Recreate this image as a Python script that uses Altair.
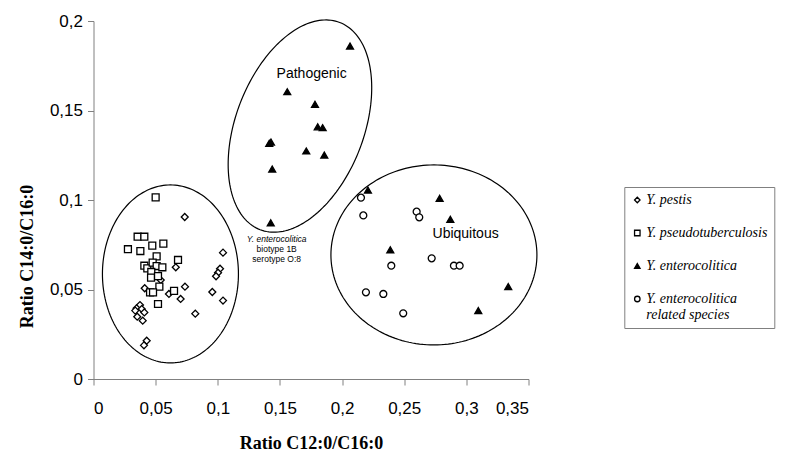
import math
import altair as alt
import pandas as pd

# ---- data ----
pestis_x = [0.0734, 0.0662, 0.1042, 0.1018, 0.1002, 0.0986, 0.0412, 0.0541, 0.0736, 0.0607, 0.0701,
            0.0956, 0.1042, 0.0819, 0.0374, 0.0347, 0.0336, 0.0388, 0.0409, 0.0352, 0.0396, 0.0428, 0.0406]
pestis_y = [0.0905, 0.0624, 0.0706, 0.0616, 0.0594, 0.0574, 0.0507, 0.0553, 0.0516, 0.0475, 0.0447,
            0.0486, 0.0438, 0.0365, 0.0413, 0.0395, 0.0382, 0.0391, 0.0372, 0.0348, 0.0326, 0.0214, 0.0188]

pseudo_x = [0.0500, 0.0355, 0.0409, 0.0277, 0.0377, 0.0473, 0.0562, 0.0508, 0.0680, 0.0409, 0.0433,
            0.0476, 0.0508, 0.0554, 0.0465, 0.0463, 0.0519, 0.0530, 0.0455, 0.0479, 0.0648, 0.0519]
pseudo_y = [0.1015, 0.0795, 0.0795, 0.0725, 0.0715, 0.0745, 0.0756, 0.0685, 0.0665, 0.0633, 0.0618,
            0.0650, 0.0631, 0.0624, 0.0598, 0.0566, 0.0575, 0.0516, 0.0484, 0.0484, 0.0492, 0.0419]

entero_x = [0.2064, 0.1559, 0.1782, 0.1804, 0.1844, 0.1414, 0.1428, 0.1712, 0.1857, 0.1438, 0.1426,
            0.2208, 0.2785, 0.2871, 0.2388, 0.3337, 0.3096]
entero_y = [0.1860, 0.1605, 0.1535, 0.1409, 0.1404, 0.1317, 0.1324, 0.1274, 0.1251, 0.1173, 0.0873,
            0.1056, 0.1009, 0.0892, 0.0722, 0.0516, 0.0382]

related_x = [0.2152, 0.2171, 0.2600, 0.2621, 0.2396, 0.2721, 0.2900, 0.2946, 0.2192, 0.2332, 0.2492]
related_y = [0.1013, 0.0914, 0.0935, 0.0903, 0.0633, 0.0674, 0.0633, 0.0633, 0.0484, 0.0475, 0.0367]

species = ["Y. pestis", "Y. pseudotuberculosis", "Y. enterocolitica",
           "Y. enterocolitica related species"]
shapes = ["diamond", "square", "triangle-up", "circle"]
fills = ["white", "white", "black", "white"]
strokes = ["black", "black", "black", "black"]

x_ticks = [0, 0.05, 0.1, 0.15, 0.2, 0.25, 0.3, 0.35]
y_ticks = [0, 0.05, 0.1, 0.15, 0.2]

# ---- tables ----
rows = []
for name, xs, ys in zip(species, [pestis_x, pseudo_x, entero_x, related_x],
                        [pestis_y, pseudo_y, entero_y, related_y]):
    rows += [{"species": name, "x": a, "y": b} for a, b in zip(xs, ys)]
points = pd.DataFrame(rows)

W, H = 435, 358
X_MAX, Y_MAX = 0.35, 0.2
KX, KY = W / X_MAX, H / Y_MAX

# group outlines: centre (data units), semi-axes (px), rotation (deg)
outlines = [
    ("left", 0.0619, 0.0587, 68, 89, 0),
    ("pathogenic", 0.1661, 0.1413, 111, 64, 69),
    ("ubiquitous", 0.2739, 0.0693, 103, 90, 0),
]
erows = []
for name, cx, cy, a, b, deg in outlines:
    th = math.radians(deg)
    for i in range(181):
        t = 2 * math.pi * i / 180
        dx = a * math.cos(t) * math.cos(th) - b * math.sin(t) * math.sin(th)
        dy = a * math.cos(t) * math.sin(th) + b * math.sin(t) * math.cos(th)
        erows.append({"g": name, "i": i, "x": cx + dx / KX, "y": cy + dy / KY})
ell = pd.DataFrame(erows)

labels = pd.DataFrame({"x": [0.1755, 0.2994], "y": [0.1704, 0.0808],
                       "t": ["Pathogenic", "Ubiquitous"]})
note_it = pd.DataFrame({"x": [0.1474], "y": [0.0782], "t": ["Y. enterocolitica"]})
note = pd.DataFrame({"x": [0.1474, 0.1474], "y": [0.0725, 0.0670],
                     "t": ["biotype 1B", "serotype O:8"]})

fmt = "replace(format(datum.value, '.2~f'), '.', ',')"
x_enc = alt.X("x:Q", scale=alt.Scale(domain=[0, X_MAX], nice=False),
              axis=alt.Axis(values=x_ticks, labelExpr=fmt, title="Ratio C12:0/C16:0",
                            titleY=69, titleBaseline="alphabetic", labelPadding=15))
y_enc = alt.Y("y:Q", scale=alt.Scale(domain=[0, Y_MAX], nice=False),
              axis=alt.Axis(values=y_ticks, labelExpr=fmt, title="Ratio C14:0/C16:0",
                            titleX=-61.5, titleY=235, titleBaseline="alphabetic",
                            labelPadding=5))

leg = alt.Legend(title=None, orient="none", legendX=530.8, legendY=166,
                 strokeColor="#808080", padding=6, rowPadding=19, symbolSize=30,
                 symbolStrokeWidth=1.3, symbolStrokeColor="black",
                 labelFont="Liberation Serif", labelFontStyle="italic", labelFontSize=14,
                 labelOffset=2, labelLimit=300,
                 labelExpr="datum.label == 'Y. enterocolitica related species' ? "
                           "['Y. enterocolitica', 'related species'] : datum.label")

pts = alt.Chart(points).mark_point(filled=True, strokeWidth=1.3, size=48, opacity=1).encode(
    x=x_enc, y=y_enc,
    shape=alt.Shape("species:N", scale=alt.Scale(domain=species, range=shapes), legend=leg),
    fill=alt.Fill("species:N", scale=alt.Scale(domain=species, range=fills), legend=leg),
    stroke=alt.Stroke("species:N", scale=alt.Scale(domain=species, range=strokes), legend=leg),
)

lines = alt.Chart(ell).mark_line(color="black", strokeWidth=1.2).encode(
    x=x_enc, y=y_enc, detail="g:N", order="i:Q")

txt = alt.Chart(labels).mark_text(font="Liberation Sans", fontSize=14, color="black",
                                  baseline="middle").encode(x=x_enc, y=y_enc, text="t:N")
nt1 = alt.Chart(note_it).mark_text(font="Liberation Sans", fontSize=8.5, fontStyle="italic",
                                   color="black", baseline="middle").encode(
    x=x_enc, y=y_enc, text="t:N")
nt2 = alt.Chart(note).mark_text(font="Liberation Sans", fontSize=8.5, color="black",
                                baseline="middle").encode(x=x_enc, y=y_enc, text="t:N")

chart = alt.layer(lines, pts, txt, nt1, nt2).properties(
    width=W, height=H,
    autosize=alt.AutoSizeParams(type="none"),
    padding={"left": 85.5, "top": 13, "right": 255, "bottom": 73},
).configure_view(stroke=None).configure_axis(
    grid=False, domainColor="#808080", tickColor="#808080", tickSize=6,
    labelFont="Liberation Sans", labelFontSize=17, labelColor="black",
    titleFont="Liberation Serif", titleFontWeight="bold", titleFontSize=18,
    titleColor="black",
)

chart.save("out.html", embed_options={"renderer": "svg", "actions": False})
